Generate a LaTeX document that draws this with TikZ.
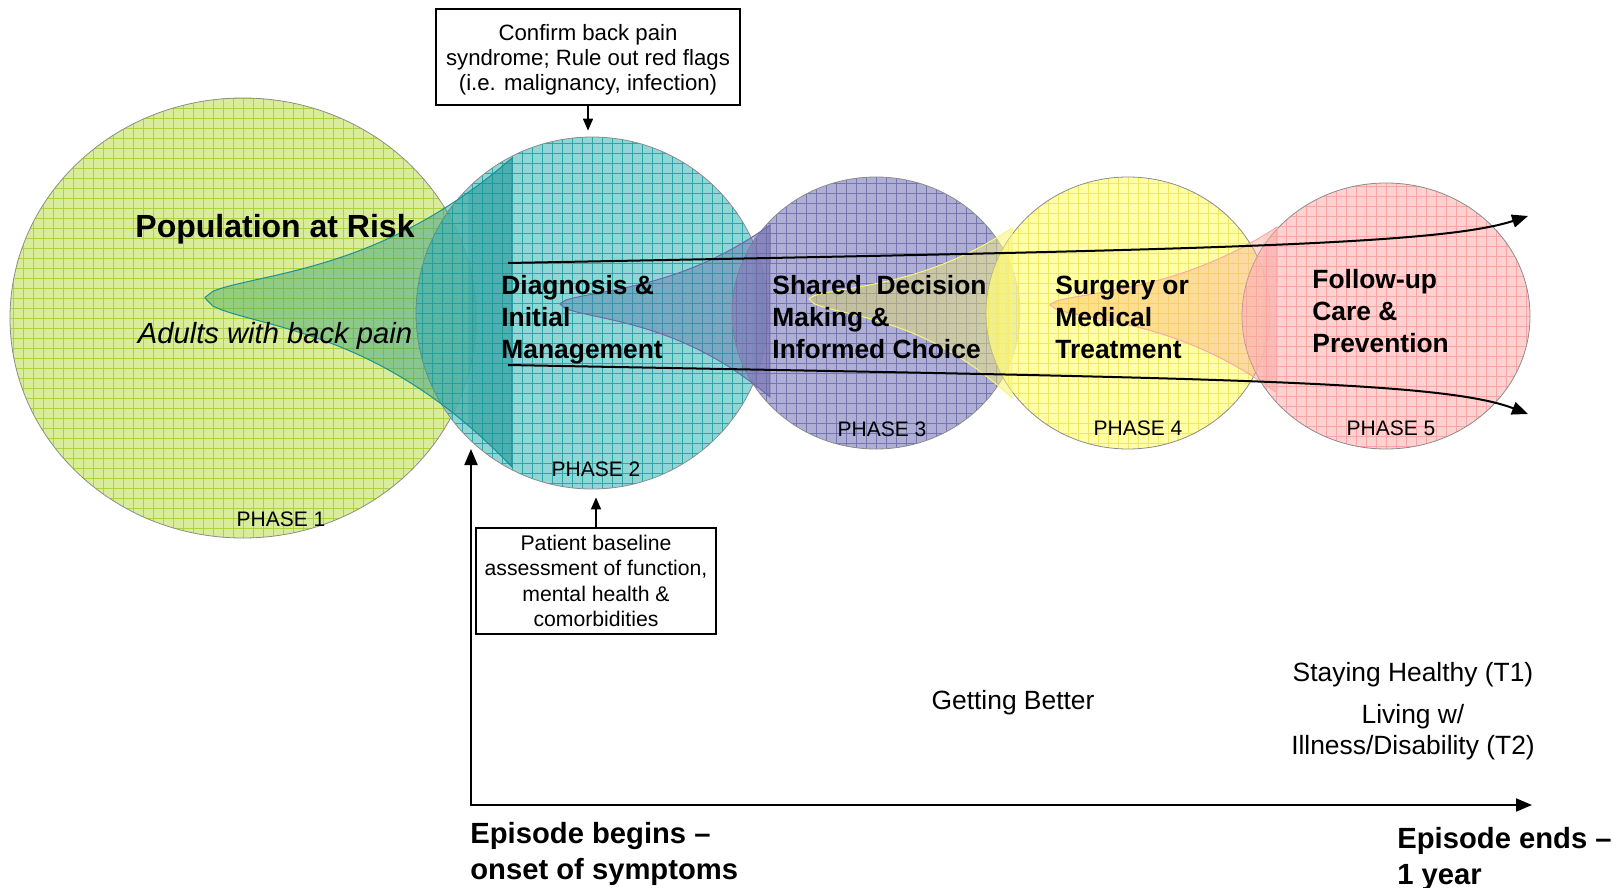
\documentclass[tikz,border=0pt]{standalone}
\usepackage{fontspec}
\setmainfont{Liberation Sans}
\usetikzlibrary{shapes.geometric,arrows.meta}

\definecolor{greenfill}{RGB}{208,231,130}
\definecolor{greengrid}{RGB}{170,214,60}
\definecolor{tealfill}{RGB}{118,203,203}
\definecolor{tealgrid}{RGB}{40,168,168}
\definecolor{lilacfill}{RGB}{155,155,203}
\definecolor{lilacgrid}{RGB}{118,118,175}
\definecolor{yellowfill}{RGB}{255,255,145}
\definecolor{yellowgrid}{RGB}{240,232,95}
\definecolor{pinkfill}{RGB}{255,198,198}
\definecolor{pinkgrid}{RGB}{250,165,165}
\definecolor{funnelgreen}{RGB}{70,170,90}
\definecolor{funnelteal}{RGB}{25,145,150}
\definecolor{funnelblue}{RGB}{70,130,170}
\definecolor{funnelpurple}{RGB}{110,105,170}
\definecolor{funnelolive}{RGB}{215,205,90}
\definecolor{funnelyellow}{RGB}{250,245,120}
\definecolor{funnelorange}{RGB}{255,190,90}
\definecolor{funnelpink}{RGB}{250,170,165}

\begin{document}
\begin{tikzpicture}[x=0.5pt, y=-0.5pt,
        phase/.style={ellipse, draw=black!45, line width=0.4pt, inner sep=0pt, fill opacity=0.8},
        title/.style={font=\fontsize{13.2}{16}\selectfont\bfseries, align=left, anchor=west, inner sep=0pt},
        phaselabel/.style={font=\fontsize{10.5}{12}\selectfont, inner sep=0pt},
        note/.style={draw, line width=0.8pt, align=center, inner sep=0pt},
        flow/.style={line width=1pt, -{Triangle[length=8pt, width=6.5pt]}},
        outcome/.style={font=\fontsize{13.2}{15.5}\selectfont, align=center, inner sep=0pt},
        episode/.style={font=\fontsize{14.6}{18}\selectfont\bfseries, align=left, anchor=west, inner sep=0pt}]

    % the frame
    \useasboundingbox (0,0) rectangle (1616,888);

    % the phases
    \foreach \nm/\cx/\cy/\w/\h/\fc/\gc in {ph1/243/318/233/220/greenfill/greengrid,
            ph2/592/313/176/176/tealfill/tealgrid, ph3/876/313/144/136/lilacfill/lilacgrid,
            ph4/1128/313/142/136/yellowfill/yellowgrid, ph5/1386/316/144/133/pinkfill/pinkgrid} {
        \node[phase, fill=\fc, minimum width=\w pt, minimum height=\h pt,
            path picture={\draw[\gc, line width=0.25pt] (path picture bounding box.south west)
                grid[step=5pt] (path picture bounding box.north east);}] (\nm) at (\cx, \cy) {};
    }

    % the funnels
    \foreach \tx/\ty/\ex/\yt/\yb/\ca/\cb/\bw in {205/298/512/158/467/funnelgreen/funnelteal/22,
            560/304/770/225/397/funnelblue/funnelpurple/8, 809/299/1012/228/398/funnelolive/funnelyellow/7,
            1050/305/1277/227/393/funnelorange/funnelpink/7} {
        \pgfmathsetmacro{\flen}{\ex-\tx}
        \shadedraw[left color=\ca, right color=\cb, fill opacity=0.45, draw=\cb, line width=0.5pt,
            path picture={\fill[\cb, fill opacity=0.2] ([xshift=-\bw pt]path picture bounding box.south east)
                rectangle (path picture bounding box.north east);}]
            plot[domain=1:0, samples=40] ({\tx+\x*\flen}, {\ty-(\ty-\yt)*(0.3*sqrt(abs(\x))+0.7*\x*\x*sqrt(abs(\x)))})
            -- plot[domain=0:1, samples=40] ({\tx+\x*\flen}, {\ty+(\yb-\ty)*(0.3*sqrt(abs(\x))+0.7*\x*\x*sqrt(abs(\x)))})
            -- cycle;
    }

    % the phase texts
    \node[font=\fontsize{16}{19}\selectfont\bfseries, inner sep=0pt] (risk) at (275,229) {Population at Risk};
    \node[font=\fontsize{14.6}{17}\selectfont\itshape, inner sep=0pt] (adults) at (275,336) {Adults with back pain};
    \node[title] (diag) at (501,320) {Diagnosis \&\\Initial\\Management};
    \node[title] (sdm) at (772,317) {Shared\ \ Decision\\Making \&\\Informed Choice};
    \node[title] (surg) at (1055,317) {Surgery or\\Medical\\Treatment};
    \node[title] (follow) at (1312,311) {Follow-up\\Care \&\\Prevention};
    \foreach \i/\px/\py in {1/281/519, 2/596/469, 3/882/429, 4/1138/428, 5/1391/428}
        \node[phaselabel] (lab\i) at (\px,\py) {PHASE \i};

    % the boxes
    \node[note, minimum width=152pt, minimum height=48pt, font=\fontsize{11.1}{12.5}\selectfont] (confirm)
        at (588,57) {\parbox{150pt}{\centering\vspace*{3pt}Confirm back pain\\syndrome; Rule out red flags\\(i.e. malignancy, infection)}};
    \node[note, minimum width=120pt, minimum height=53pt, font=\fontsize{10.6}{12.8}\selectfont] (baseline)
        at (596,581) {Patient baseline\\assessment of function,\\mental health \&\\comorbidities};
    \draw[line width=0.8pt, -{Triangle[length=6pt, width=5pt]}, shorten >=3pt] (confirm.south) -- (confirm.south |- ph2.north);
    \draw[line width=0.8pt, -{Triangle[length=6pt, width=5pt]}, shorten >=4pt] (baseline.north) -- (baseline.north |- ph2.south);

    % the flow
    \coordinate (upstart) at (508,263);
    \coordinate (upend) at (1528,216);
    \coordinate (lowstart) at (508,365);
    \coordinate (lowend) at (1528,414);
    \draw[flow] (upstart) .. controls (1200,250) and (1440,245) .. (upend);
    \draw[flow] (lowstart) .. controls (1200,378) and (1440,380) .. (lowend);

    % the time axis
    \coordinate (origin) at (471,805);
    \coordinate (ytip) at (471,449);
    \coordinate (xtip) at (1532,805);
    \draw[line width=1pt, {Triangle[length=8pt, width=6.5pt]}-{Triangle[length=8pt, width=6.5pt]}] (ytip) -- (origin) -- (xtip);

    % outcomes
    \node[outcome] (better) at (1013,703) {Getting Better};
    \node[outcome] (healthy) at (1413,675) {Staying Healthy (T1)};
    \node[outcome] (living) at (1413,732) {Living w/\\Illness/Disability (T2)};
    \node[episode] (begin) at (470,854) {Episode begins –\\onset of symptoms};
    \node[episode] (finish) at (1397,859) {Episode ends –\\1 year};
\end{tikzpicture}
\end{document}
